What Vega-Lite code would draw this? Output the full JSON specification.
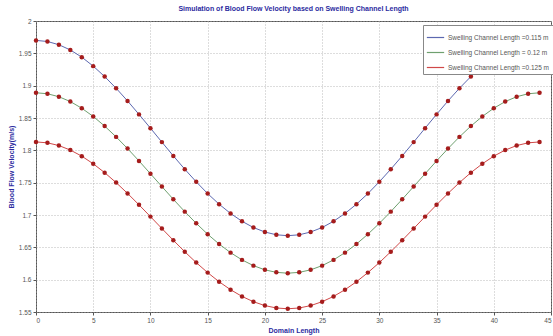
{
  "$schema": "https://vega.github.io/schema/vega-lite/v6.json",
  "width": 515,
  "height": 291,
  "autosize": {"type": "none"},
  "padding": {"left": 36, "top": 21, "right": 2, "bottom": 24},
  "background": "white",
  "title": {
    "text": "Simulation of Blood Flow Velocity based on Swelling Channel Length",
    "fontSize": 7,
    "fontWeight": "bold",
    "color": "#2b2ba0",
    "font": "Liberation Sans",
    "anchor": "middle",
    "offset": 6
  },
  "config": {
    "view": {"stroke": "#555555", "strokeWidth": 1},
    "axis": {
      "labelFont": "Liberation Sans",
      "labelFontSize": 6.5,
      "labelColor": "#555555",
      "titleFont": "Liberation Sans",
      "titleFontSize": 7,
      "titleFontWeight": "bold",
      "titleColor": "#2b2ba0",
      "gridColor": "#aaaaaa",
      "gridDash": [1, 2],
      "gridWidth": 0.8,
      "domain": false,
      "tickColor": "#555555",
      "tickSize": 3
    }
  },
  "data": {
    "values": [
      {"x": 0, "L115": 1.970, "L120": 1.889, "L125": 1.813},
      {"x": 1, "L115": 1.9683, "L120": 1.8875, "L125": 1.8116},
      {"x": 2, "L115": 1.9633, "L120": 1.8829, "L125": 1.8074},
      {"x": 3, "L115": 1.9552, "L120": 1.8754, "L125": 1.8004},
      {"x": 4, "L115": 1.9441, "L120": 1.8651, "L125": 1.7910},
      {"x": 5, "L115": 1.9302, "L120": 1.8524, "L125": 1.7792},
      {"x": 6, "L115": 1.9141, "L120": 1.8375, "L125": 1.7655},
      {"x": 7, "L115": 1.8960, "L120": 1.8208, "L125": 1.7501},
      {"x": 8, "L115": 1.8764, "L120": 1.8027, "L125": 1.7334},
      {"x": 9, "L115": 1.8556, "L120": 1.7836, "L125": 1.7157},
      {"x": 10, "L115": 1.8343, "L120": 1.7638, "L125": 1.6975},
      {"x": 11, "L115": 1.8127, "L120": 1.7440, "L125": 1.6791},
      {"x": 12, "L115": 1.7914, "L120": 1.7243, "L125": 1.6609},
      {"x": 13, "L115": 1.7708, "L120": 1.7052, "L125": 1.6432},
      {"x": 14, "L115": 1.7513, "L120": 1.6871, "L125": 1.6264},
      {"x": 15, "L115": 1.7331, "L120": 1.6703, "L125": 1.6109},
      {"x": 16, "L115": 1.7167, "L120": 1.6551, "L125": 1.5968},
      {"x": 17, "L115": 1.7024, "L120": 1.6418, "L125": 1.5845},
      {"x": 18, "L115": 1.6903, "L120": 1.6306, "L125": 1.5741},
      {"x": 19, "L115": 1.6806, "L120": 1.6217, "L125": 1.5659},
      {"x": 20, "L115": 1.6737, "L120": 1.6152, "L125": 1.5599},
      {"x": 21, "L115": 1.6694, "L120": 1.6113, "L125": 1.5562},
      {"x": 22, "L115": 1.668, "L120": 1.610, "L125": 1.555},
      {"x": 23, "L115": 1.6694, "L120": 1.6113, "L125": 1.5562},
      {"x": 24, "L115": 1.6737, "L120": 1.6152, "L125": 1.5599},
      {"x": 25, "L115": 1.6806, "L120": 1.6217, "L125": 1.5659},
      {"x": 26, "L115": 1.6903, "L120": 1.6306, "L125": 1.5741},
      {"x": 27, "L115": 1.7024, "L120": 1.6418, "L125": 1.5845},
      {"x": 28, "L115": 1.7167, "L120": 1.6551, "L125": 1.5968},
      {"x": 29, "L115": 1.7331, "L120": 1.6703, "L125": 1.6109},
      {"x": 30, "L115": 1.7513, "L120": 1.6871, "L125": 1.6264},
      {"x": 31, "L115": 1.7708, "L120": 1.7052, "L125": 1.6432},
      {"x": 32, "L115": 1.7914, "L120": 1.7243, "L125": 1.6609},
      {"x": 33, "L115": 1.8127, "L120": 1.7440, "L125": 1.6791},
      {"x": 34, "L115": 1.8343, "L120": 1.7638, "L125": 1.6975},
      {"x": 35, "L115": 1.8556, "L120": 1.7836, "L125": 1.7157},
      {"x": 36, "L115": 1.8764, "L120": 1.8027, "L125": 1.7334},
      {"x": 37, "L115": 1.8960, "L120": 1.8208, "L125": 1.7501},
      {"x": 38, "L115": 1.9141, "L120": 1.8375, "L125": 1.7655},
      {"x": 39, "L115": 1.9302, "L120": 1.8524, "L125": 1.7792},
      {"x": 40, "L115": 1.9441, "L120": 1.8651, "L125": 1.7910},
      {"x": 41, "L115": 1.9552, "L120": 1.8754, "L125": 1.8004},
      {"x": 42, "L115": 1.9633, "L120": 1.8829, "L125": 1.8074},
      {"x": 43, "L115": 1.9683, "L120": 1.8875, "L125": 1.8116},
      {"x": 44, "L115": 1.970, "L120": 1.889, "L125": 1.813}
    ]
  },
  "transform": [
    {"fold": ["L115", "L120", "L125"], "as": ["series", "v"]}
  ],
  "mark": {
    "type": "line",
    "strokeWidth": 1,
    "point": {"filled": true, "fill": "#a51c1c", "strokeWidth": 0, "size": 20, "opacity": 1}
  },
  "encoding": {
    "x": {
      "field": "x",
      "type": "quantitative",
      "scale": {"domain": [0, 45], "nice": false, "zero": false},
      "axis": {"values": [0, 5, 10, 15, 20, 25, 30, 35, 40, 45], "title": "Domain Length", "titlePadding": 3, "labelPadding": 2, "grid": true}
    },
    "y": {
      "field": "v",
      "type": "quantitative",
      "scale": {"domain": [1.55, 2], "nice": false, "zero": false},
      "axis": {"values": [1.55, 1.6, 1.65, 1.7, 1.75, 1.8, 1.85, 1.9, 1.95, 2], "format": "~g", "title": "Blood Flow Velocity(m/s)", "titlePadding": 4, "labelPadding": 2, "grid": true}
    },
    "color": {
      "field": "series",
      "type": "nominal",
      "scale": {
        "domain": ["L115", "L120", "L125"],
        "range": ["#5c68b0", "#6fa06f", "#d04848"]
      },
      "legend": {
        "title": null,
        "orient": "none",
        "legendX": 387,
        "legendY": 4,
        "labelExpr": "datum.value == 'L115' ? 'Swelling Channel Length =0.115 m' : datum.value == 'L120' ? 'Swelling Channel Length = 0.12 m' : 'Swelling Channel Length =0.125 m'",
        "symbolType": "stroke",
        "symbolSize": 300,
        "symbolStrokeWidth": 1.2,
        "symbolFillColor": "transparent",
        "labelFont": "Liberation Sans",
        "labelFontSize": 6.5,
        "labelColor": "#555555",
        "rowPadding": 2,
        "padding": 3,
        "fillColor": "white",
        "strokeColor": "#888888",
        "labelOffset": 3,
        "encode": {
          "symbols": {
            "update": {
              "fill": {"value": "transparent"},
              "stroke": {"scale": "color", "field": "value"}
            }
          }
        }
      }
    }
  }
}
